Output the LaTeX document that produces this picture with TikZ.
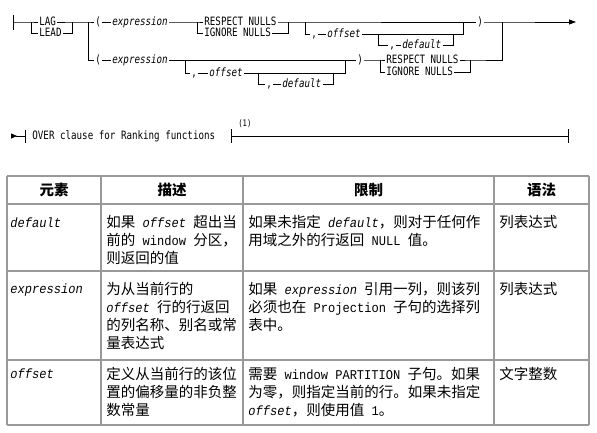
\documentclass[tikz,border=0pt]{standalone}
\usepackage{fontspec}
\usetikzlibrary{arrows.meta}
\newfontfamily\synfont{DejaVu Sans Mono}[FakeStretch=0.8]
\newfontfamily\cjkfont{Noto Sans CJK SC}
\newfontfamily\cellmono{Liberation Mono}[FakeStretch=0.9]
\newcommand{\mono}[1]{{\cellmono\fontsize{13.4}{18}\selectfont #1}}
\newcommand{\monoit}[1]{{\cellmono\itshape\fontsize{13.4}{18}\selectfont #1}}
\tikzset{
    kw/.style={anchor=west, inner sep=1pt, text height=7.5pt, text depth=0pt,
        font=\synfont\fontsize{11.5}{13}\selectfont},
    var/.style={kw, font=\synfont\itshape\fontsize{11.5}{13}\selectfont},
    cell/.style={anchor=north west, inner sep=0pt, align=left,
        font=\cjkfont\fontsize{14.5}{18}\selectfont},
    head/.style={inner sep=0pt, font=\cjkfont\bfseries\fontsize{14.5}{18}\selectfont},
    grid line/.style={draw=black!40, line width=1.3pt},
}

\begin{document}
\begin{tikzpicture}[x=1pt, y=-1pt, line width=0.8pt]
        \useasboundingbox (0,0) rectangle (597,432);
        % first alternative
        \coordinate (start) at (13,22);
        \coordinate (fLag) at (31,22);
        \node[kw] (lag) at (38,22) {LAG};
        \node[kw] (lead) at (38,33) {LEAD};
        \coordinate (jLag) at (72,22);
        \coordinate (fAlt) at (88,22);
        \node[kw] (lpA) at (94,22) {(};
        \node[var] (exprA) at (111,22) {expression};
        \coordinate (fNullA) at (197,22);
        \node[kw] (respA) at (203,22) {RESPECT NULLS};
        \node[kw] (ignA) at (203,33) {IGNORE NULLS};
        \coordinate (jNullA) at (288,22);
        \coordinate (fOffA) at (305,22);
        \node[kw] (cOffA) at (310,34) {,};
        \node[var] (offA) at (326,34) {offset};
        \coordinate (fDefA) at (378,34);
        \node[kw] (cDefA) at (388,45) {,};
        \node[var] (defA) at (401,45) {default};
        \coordinate (jDefA) at (453,34);
        \coordinate (jOffA) at (463,22);
        \node[kw] (rpA) at (476,22) {)};
        \coordinate (jAlt) at (502,22);
        \coordinate (end) at (576,22);
        % second alternative
        \node[kw] (lpB) at (94,60) {(};
        \node[var] (exprB) at (111,60) {expression};
        \coordinate (fOffB) at (185,60);
        \node[kw] (cOffB) at (190,73) {,};
        \node[var] (offB) at (208,73) {offset};
        \coordinate (fDefB) at (258,73);
        \node[kw] (cDefB) at (265,84) {,};
        \node[var] (defB) at (281,84) {default};
        \coordinate (jDefB) at (333,73);
        \coordinate (jOffB) at (345,60);
        \node[kw] (rpB) at (356,60) {)};
        \coordinate (fNullB) at (380,60);
        \node[kw] (respB) at (385,60) {RESPECT NULLS};
        \node[kw] (ignB) at (385,72) {IGNORE NULLS};
        \coordinate (jNullB) at (470,60);

        \draw (start) ++(0,-7.5) -- ++(0,15);
        \draw (start) -- (fLag) -- (lag.west);
        \draw (fLag) |- (lead.west);
        \draw (lag.east) -- (jLag) -- (fAlt) -- (lpA.west);
        \draw (lead.east) -| (jLag);
        \draw (fAlt) |- (lpB.west);
        \draw (lpA.east) -- (exprA.west);
        \draw (exprA.east) -- (fNullA) -- (respA.west);
        \draw (fNullA) |- (ignA.west);
        \draw (respA.east) -- (jNullA) -- (rpA.west);
        \draw (ignA.east) -| (jNullA);
        \draw (fOffA) |- (cOffA.west);
        \draw (cOffA.east) -- (offA.west);
        \draw (offA.east) -| (jOffA);
        \draw (fDefA) |- (cDefA.west);
        \draw (cDefA.east) -- (defA.west);
        \draw (defA.east) -| (jDefA);
        \draw[-{Triangle[length=7pt,width=5pt]}] (rpA.east) -- (jAlt) -- (end);
        \draw (lpB.east) -- (exprB.west);
        \draw (exprB.east) -- (rpB.west);
        \draw (fOffB) |- (cOffB.west);
        \draw (cOffB.east) -- (offB.west);
        \draw (offB.east) -| (jOffB);
        \draw (fDefB) |- (cDefB.west);
        \draw (cDefB.east) -- (defB.west);
        \draw (defB.east) -| (jDefB);
        \draw (rpB.east) -- (fNullB) -- (respB.west);
        \draw (fNullB) |- (ignB.west);
        \draw (respB.east) -- (jNullB) -| (jAlt);
        \draw (ignB.east) -| (jNullB);

        % over clause
        \coordinate (oStart) at (11,136);
        \coordinate (oBar) at (25,136);
        \node[kw] (over) at (31,136) {OVER clause for Ranking functions};
        \coordinate (oBar2) at (231,136);
        \node[kw, font=\synfont\fontsize{9}{10}\selectfont] (note) at (237,123) {(1)};
        \coordinate (oEnd) at (568,136);
        \draw[{Triangle[reversed,length=6pt,width=5pt]}-] (oStart) -- (oBar);
        \draw (oBar) ++(0,-6.5) -- ++(0,13);
        \draw (oBar2) ++(0,-7) -- ++(0,14);
        \draw (oBar2) -- (oEnd);
        \draw (oEnd) ++(0,-7) -- ++(0,14);

        % table
        \foreach \y in {176,204,271,360,425}
            \draw[grid line] (7,\y) -- (589,\y);
        \foreach \x in {7,101,243,494,589}
            \draw[grid line] (\x,176) -- (\x,425);
        \node[head] (hElem) at (54,190) {元素};
        \node[head] (hDesc) at (172,190) {描述};
        \node[head] (hLimit) at (368.5,190) {限制};
        \node[head] (hSyn) at (541.5,190) {语法};

        \node[cell, anchor=base west] (defName) at (10,227) {\monoit{default}};
        \node[cell] (defDesc) at (106,215) {如果\monoit{ offset }超出当\\前的\mono{ window }分区，\\则返回的值};
        \node[cell] (defLimit) at (248,215) {如果未指定\monoit{ default}，则对于任何作\\用域之外的行返回\mono{ NULL }值。};
        \node[cell] (defSyn) at (499,215) {列表达式};

        \node[cell, anchor=base west] (exprName) at (10,293.5) {\monoit{expression}};
        \node[cell] (exprDesc) at (106,281.5) {为从当前行的\\\monoit{offset }行的行返回\\的列名称、别名或常\\量表达式};
        \node[cell] (exprLimit) at (248,281.5) {如果\monoit{ expression }引用一列，则该列\\必须也在\mono{ Projection }子句的选择列\\表中。};
        \node[cell] (exprSyn) at (499,281.5) {列表达式};

        \node[cell, anchor=base west] (offName) at (10,378.5) {\monoit{offset}};
        \node[cell] (offDesc) at (106,366.5) {定义从当前行的该位\\置的偏移量的非负整\\数常量};
        \node[cell] (offLimit) at (248,366.5) {需要\mono{ window PARTITION }子句。如果\\为零，则指定当前的行。如果未指定\\\monoit{offset}，则使用值\mono{ 1}。};
        \node[cell] (offSyn) at (499,366.5) {文字整数};
    \end{tikzpicture}
\end{document}
